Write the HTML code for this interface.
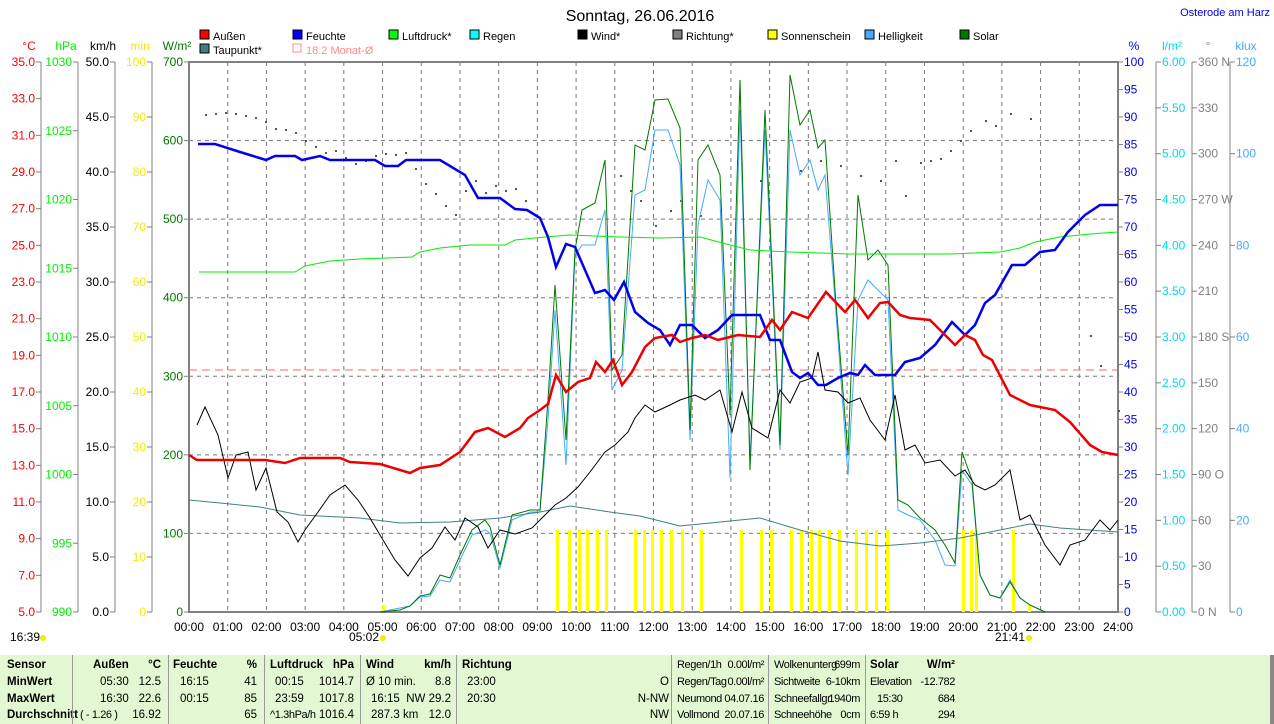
<!DOCTYPE html><html><head><meta charset="utf-8"><style>
body{margin:0;width:1274px;height:724px;background:#fff;overflow:hidden;font-family:"Liberation Sans",sans-serif}
svg text{font-family:"Liberation Sans",sans-serif;font-size:12px}
#tb{position:absolute;left:0;top:655px;width:1270px;height:69px;background:#e2f8d2;border-right:4px solid #888}
#tb div{position:absolute;font-size:11.5px;white-space:pre}
#tb div.n{font-size:11px;letter-spacing:-0.4px}
.b{font-weight:bold}
</style></head><body>
<svg id="s" width="1274" height="655" style="position:absolute;left:0;top:0"></svg>
<div id="tb"></div>
<script>
const S=document.getElementById('s');let h='';
const X0=189,X1=1118,Y0=62,Y1=612,HW=(X1-X0)/24;
h+=`<text x="640" y="21" text-anchor="middle" style="font-size:16px">Sonntag, 26.06.2016</text>`;
h+=`<text x="1270" y="16" text-anchor="end" fill="#0000e0" style="font-size:11px">Osterode am Harz</text>`;
for(let i=1;i<7;i++){let y=Y1-i*550/7;h+=`<line x1="${X0}" x2="${X1}" y1="${y}" y2="${y}" stroke="#777" stroke-dasharray="4,4"/>`}
for(let i=1;i<24;i++){let x=X0+i*HW;h+=`<line x1="${x}" x2="${x}" y1="${Y0}" y2="${Y1}" stroke="#777" stroke-dasharray="4,4"/>`}
h+=`<rect x="${X0}" y="${Y0}" width="${X1-X0}" height="${Y1-Y0}" fill="none" stroke="#808080" stroke-width="2"/>`;
for(let i=0;i<=24;i++){let x=X0+i*HW;h+=`<text x="${x}" y="631" text-anchor="middle">${String(i).padStart(2,'0')}:00</text>`}
function axis(lx,vals,col,unit){let n=vals.length-1;h+=`<line x1="${lx}" x2="${lx}" y1="${Y0}" y2="${Y1}" stroke="#808080"/>`;
vals.forEach((v,i)=>{let y=Y1-i*550/n;h+=`<line x1="${lx-5}" x2="${lx}" y1="${y}" y2="${y}" stroke="#808080"/><text x="${lx-6}" y="${y+4}" text-anchor="end" fill="${col}">${v}</text>`});
h+=`<text x="${lx-12}" y="50" text-anchor="middle" fill="${col}">${unit}</text>`}
let a=[];for(let i=0;i<=15;i++)a.push((5+2*i).toFixed(1));axis(41,a,'#f00','°C');
a=[];for(let i=0;i<=8;i++)a.push(990+5*i);axis(78,a,'#0e0','hPa');
a=[];for(let i=0;i<=10;i++)a.push((5*i).toFixed(1));axis(115,a,'#000','km/h');
a=[];for(let i=0;i<=10;i++)a.push(10*i);axis(152,a,'#ee0','min');
a=[];for(let i=0;i<=7;i++)a.push(100*i);axis(189,a,'#070','W/m²');
function raxis(lx,vals,col,unit){let n=vals.length-1;h+=`<line x1="${lx}" x2="${lx}" y1="${Y0}" y2="${Y1}" stroke="#808080"/>`;
vals.forEach((v,i)=>{let y=Y1-i*550/n;h+=`<line x1="${lx}" x2="${lx+5}" y1="${y}" y2="${y}" stroke="#808080"/><text x="${lx+6}" y="${y+4}" fill="${col}">${v}</text>`});
h+=`<text x="${lx+16}" y="50" text-anchor="middle" fill="${col}">${unit}</text>`}
a=[];for(let i=0;i<=20;i++)a.push(5*i);raxis(1118,a,'#00e','%');
a=[];for(let i=0;i<=12;i++)a.push((0.5*i).toFixed(2));raxis(1156,a,'#0dd','l/m²');
a=[];const L={0:' N',3:' O',6:' S',9:' W',12:' N'};for(let i=0;i<=12;i++)a.push(30*i+(L[i]||''));raxis(1192,a,'#808080','°');
a=[];for(let i=0;i<=6;i++)a.push(20*i);raxis(1230,a,'#4af','klux');
[['Außen','#f00',200,38],['Feuchte','#00f',293,38],['Luftdruck*','#0f0',389,38],['Regen','#0ff',470,38],['Wind*','#000',578,38],['Richtung*','#808080',673,38],['Sonnenschein','#ff0',768,38],['Helligkeit','#4af',865,38],['Solar','#070',960,38],['Taupunkt*','#408080',200,52]].forEach(l=>{h+=`<rect x="${l[2]}" y="${l[3]-8}" width="9" height="9" fill="${l[1]}" stroke="#000"/><text x="${l[2]+13}" y="${l[3]+2}" style="font-size:11px">${l[0]}</text>`});
h+=`<rect x="293" y="44" width="8" height="8" fill="none" stroke="#f88"/><text x="306" y="54" fill="#f88" style="font-size:11px">18.2 Monat-Ø</text>`;
h+=`<line x1="${X0}" x2="${X1}" y1="370" y2="370" stroke="#f66" stroke-dasharray="8,5"/>`;
const dd=[[205,114],[215,113],[225,112],[235,113],[245,115],[255,117],[265,121],[275,128],[285,129],[295,132],[305,140],[315,146],[325,152],[335,150],[345,157],[355,163],[365,160],[375,155],[385,153],[395,154],[405,152],[415,168],[425,183],[435,193],[445,205],[455,214],[465,190],[475,180],[485,192],[495,185],[505,190],[515,188],[525,200],[620,175],[630,190],[640,200],[655,225],[670,210],[680,200],[700,215],[720,210],[760,180],[800,170],[820,160],[840,165],[860,175],[880,180],[895,160],[905,195],[920,162],[930,160],[940,158],[950,150],[960,140],[970,130],[985,120],[995,125],[1010,113],[1030,118],[1090,335],[1100,365],[1118,410]];
dd.forEach(p=>h+=`<rect x="${p[0]}" y="${p[1]}" width="2" height="2" fill="#555"/>`);
[556,568,578,586,596,605,634,643,651,660,670,681,700,740,760,770,790,800,810,818,828,838,855,865,875,886,962,970,975,1012].forEach(x=>h+=`<rect x="${x}" y="530" width="3" height="82" fill="#ff0"/>`);
h+=`<rect x="1028" y="605" width="3" height="7" fill="#ff0"/><rect x="382" y="605" width="3" height="7" fill="#ff0"/>`;
function pl(pts,c,w){h+=`<polyline fill="none" stroke="${c}" stroke-width="${w}" points="${pts.map(p=>p.join(',')).join(' ')}"/>`}
pl([[380,612],[400,608],[410,606],[420,597],[430,596],[440,580],[450,582],[460,560],[472,535],[485,530],[490,533],[500,568],[512,520],[530,512],[540,512],[548,420],[555,310],[566,465],[575,255],[582,245],[595,245],[605,210],[612,390],[622,370],[635,195],[645,190],[655,130],[668,130],[680,165],[690,440],[698,225],[708,180],[720,200],[730,478],[740,110],[750,460],[765,130],[780,450],[790,130],[800,175],[810,160],[818,190],[825,175],[835,300],[848,475],[858,300],[868,280],[878,290],[888,300],[898,510],[908,515],[920,520],[935,540],[945,565],[955,566],[962,470],[972,485],[980,575],[990,595],[1000,598],[1010,580],[1020,598],[1030,605],[1045,612]],'#4af',1);
pl([[380,612],[400,610],[410,606],[420,596],[430,594],[440,575],[450,578],[460,555],[472,530],[485,520],[490,527],[500,565],[512,515],[530,510],[540,510],[548,400],[555,285],[566,440],[575,250],[582,210],[595,203],[605,160],[612,370],[622,355],[635,145],[645,150],[655,100],[668,99],[680,128],[690,430],[698,160],[708,145],[720,175],[730,415],[740,80],[750,470],[765,110],[780,445],[790,75],[800,125],[810,110],[818,148],[825,140],[835,290],[848,455],[858,195],[868,260],[878,250],[888,265],[898,500],[908,505],[920,518],[935,530],[945,545],[955,563],[962,452],[972,480],[980,575],[990,595],[1000,598],[1010,582],[1020,598],[1030,605],[1045,612]],'#070',1);
pl([[189,500],[220,503],[260,507],[300,515],[360,518],[400,523],[450,522],[500,518],[540,512],[570,506],[610,512],[640,516],[680,526],[720,522],[760,518],[800,530],[840,541],[880,546],[920,543],[960,538],[1000,530],[1030,524],[1060,528],[1118,532]],'#408080',1);
pl([[199,272],[295,272],[305,266],[330,261],[360,259],[412,257],[420,252],[440,248],[470,245],[505,245],[515,240],[545,237],[570,235],[620,237],[660,238],[700,237],[730,245],[750,250],[790,252],[850,254],[900,254],[950,254],[1000,252],[1020,248],[1035,242],[1060,237],[1090,234],[1118,232]],'#0e0',1);
pl([[197,425],[205,407],[218,435],[228,478],[236,455],[248,452],[256,490],[266,468],[277,512],[288,522],[298,542],[305,530],[318,512],[330,495],[345,485],[358,500],[370,518],[380,535],[395,560],[408,576],[420,558],[432,548],[445,527],[455,540],[465,518],[478,527],[488,548],[500,530],[515,534],[532,528],[545,515],[555,505],[566,498],[578,487],[590,472],[605,452],[615,445],[628,432],[635,418],[645,405],[655,412],[670,405],[680,400],[695,395],[705,400],[720,390],[732,432],[742,392],[752,428],[768,438],[780,390],[790,403],[800,382],[812,378],[818,352],[825,390],[838,392],[848,403],[860,398],[870,420],[885,440],[895,395],[905,450],[915,445],[925,463],[940,460],[955,476],[965,470],[975,485],[985,490],[995,485],[1010,470],[1020,520],[1030,515],[1045,545],[1060,565],[1070,545],[1085,540],[1100,520],[1110,530],[1118,520]],'#000',1);
pl([[198,144],[215,144],[240,152],[266,160],[275,156],[295,156],[302,160],[320,156],[330,160],[375,160],[385,166],[398,166],[406,160],[440,160],[465,175],[478,198],[500,198],[515,209],[527,210],[540,218],[548,237],[556,267],[566,244],[575,247],[595,293],[605,290],[614,300],[624,282],[635,312],[648,323],[660,330],[670,345],[680,325],[692,325],[705,338],[718,330],[732,315],[760,315],[770,340],[780,340],[792,372],[800,378],[808,373],[818,385],[826,385],[838,378],[850,373],[858,375],[865,365],[875,375],[895,375],[905,362],[920,358],[935,345],[952,322],[965,335],[975,325],[985,303],[995,295],[1012,265],[1025,265],[1040,252],[1055,250],[1068,232],[1085,215],[1100,205],[1118,205]],'#00e',2.5);
pl([[189,455],[197,460],[265,460],[285,463],[300,458],[340,458],[350,462],[380,464],[400,470],[410,473],[420,468],[440,465],[460,452],[475,432],[488,428],[505,437],[520,428],[528,418],[540,410],[548,404],[556,375],[566,392],[578,382],[590,378],[596,362],[605,372],[613,360],[622,385],[632,372],[645,347],[655,338],[672,335],[680,342],[692,338],[705,335],[718,340],[738,335],[760,337],[772,320],[780,330],[792,312],[808,318],[826,292],[845,312],[855,300],[868,318],[880,303],[888,302],[900,315],[910,318],[930,320],[945,335],[955,345],[965,335],[975,340],[983,355],[992,360],[1010,395],[1030,405],[1055,410],[1070,422],[1090,445],[1102,452],[1118,455]],'#e00',2.5);
h+=`<text x="10" y="641">16:39</text><circle cx="43" cy="638" r="3" fill="#ee0"/>`;
h+=`<text x="349" y="641">05:02</text><circle cx="383" cy="638" r="3" fill="#ee0"/>`;
h+=`<text x="995" y="641">21:41</text><circle cx="1029" cy="638" r="3" fill="#ee0"/>`;
S.innerHTML=h;
const T=document.getElementById('tb');let t='';
function c(x,y,s,b,r,n){t+=`<div class="${b?'b':''}${n?' n':''}" style="${r?'right:'+(1270-x)+'px':'left:'+x+'px'};top:${y}px">${s}</div>`}
const R=[4,21,38,54];
['Sensor','MinWert','MaxWert','Durchschnitt'].forEach((s,i)=>c(7,R[i],s,1));
c(93,4,'Außen',1);c(161,4,'°C',1,1);c(100,21,'05:30');c(161,21,'12.5',0,1);c(100,38,'16:30');c(161,38,'22.6',0,1);c(80,54,'( - 1.26 )',0,0,1);c(161,54,'16.92',0,1);
c(173,4,'Feuchte',1);c(257,4,'%',1,1);c(180,21,'16:15');c(257,21,'41',0,1);c(180,38,'00:15');c(257,38,'85',0,1);c(257,54,'65',0,1);
c(270,4,'Luftdruck',1);c(354,4,'hPa',1,1);c(275,21,'00:15');c(354,21,'1014.7',0,1);c(275,38,'23:59');c(354,38,'1017.8',0,1);c(270,54,'^1.3hPa/h',0,0,1);c(354,54,'1016.4',0,1);
c(366,4,'Wind',1);c(451,4,'km/h',1,1);c(366,21,'Ø 10 min.');c(451,21,'8.8',0,1);c(371,38,'16:15');c(451,38,'NW 29.2',0,1);c(371,54,'287.3 km');c(451,54,'12.0',0,1);
c(462,4,'Richtung',1);c(467,21,'23:00');c(669,21,'O',0,1);c(467,38,'20:30');c(669,38,'N-NW',0,1);c(669,54,'NW',0,1);
c(677,4,'Regen/1h',0,0,1);c(764,4,'0.00l/m²',0,1,1);c(677,21,'Regen/Tag',0,0,1);c(764,21,'0.00l/m²',0,1,1);c(677,38,'Neumond',0,0,1);c(764,38,'04.07.16',0,1,1);c(677,54,'Vollmond',0,0,1);c(764,54,'20.07.16',0,1,1);
c(774,4,'Wolkenunterg',0,0,1);c(860,4,'699m',0,1,1);c(774,21,'Sichtweite',0,0,1);c(860,21,'6-10km',0,1,1);c(774,38,'Schneefallgr',0,0,1);c(860,38,'1940m',0,1,1);c(774,54,'Schneehöhe',0,0,1);c(860,54,'0cm',0,1,1);
c(870,4,'Solar',1);c(955,4,'W/m²',1,1);c(870,21,'Elevation',0,0,1);c(955,21,'-12.782',0,1,1);c(877,38,'15:30',0,0,1);c(955,38,'684',0,1,1);c(870,54,'6:59 h',0,0,1);c(955,54,'294',0,1,1);
[72,168,264,360,456,671,768,865].forEach(x=>t+=`<div style="left:${x}px;top:0;width:1px;height:69px;background:#999"></div>`);
T.innerHTML=t;
</script></body></html>
